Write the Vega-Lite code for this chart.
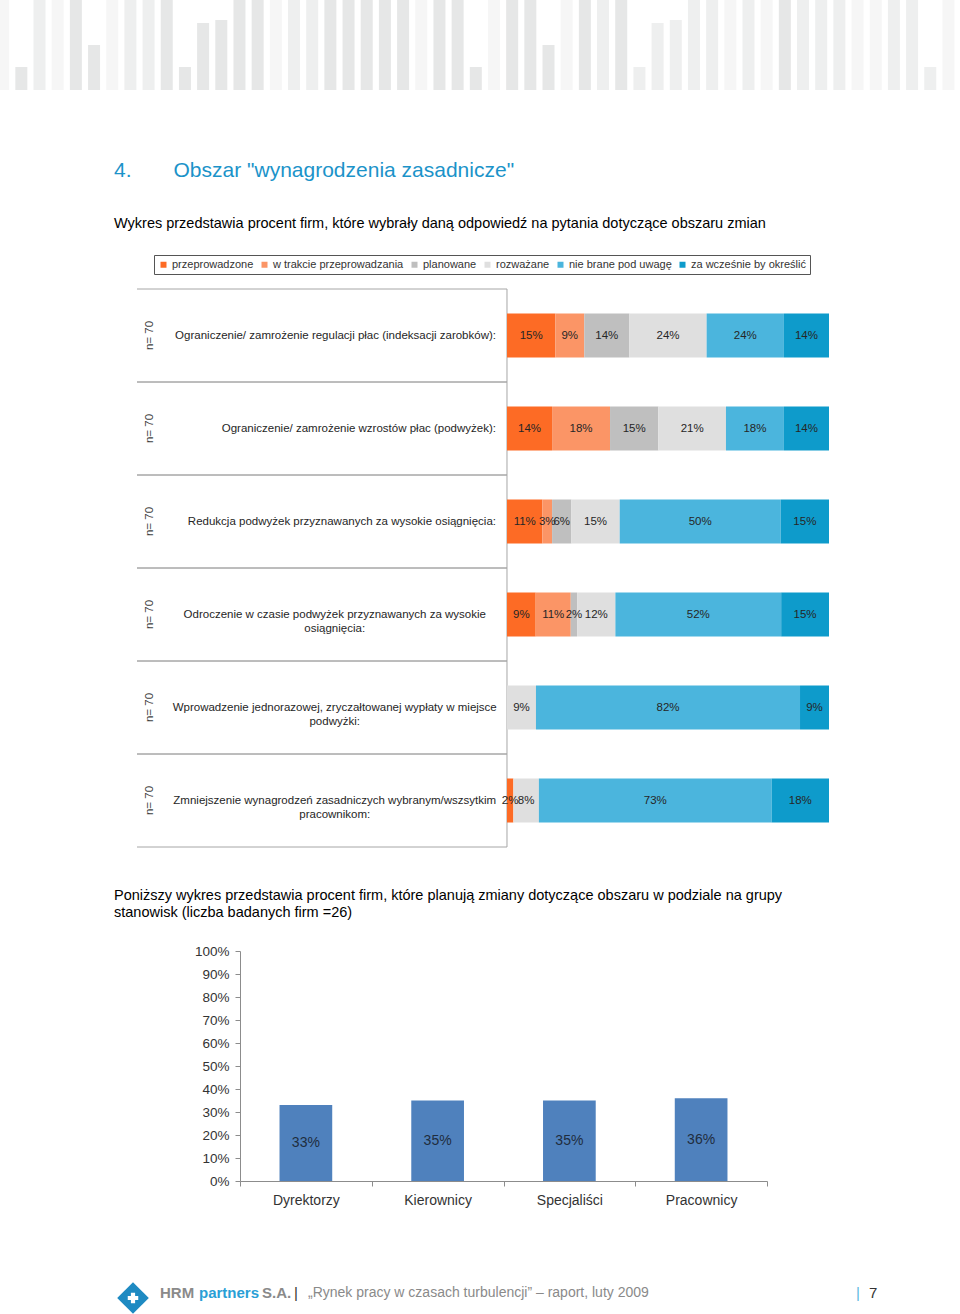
{
  "$schema": "https://vega.github.io/schema/vega-lite/v6.json",
  "background": "white",
  "padding": {"left": 0, "top": 0, "right": 0, "bottom": 0},
  "config": {
    "view": {"stroke": null},
    "font": "Liberation Sans",
    "title": {"font": "Liberation Sans", "fontWeight": "normal", "subtitleFont": "Liberation Sans"},
    "axis": {"labelFont": "Liberation Sans"},
    "legend": {"labelFont": "Liberation Sans"}
  },
  "resolve": {"scale": {"color": "independent"}, "legend": {"color": "independent"}},
  "datasets": {
    "naglowek": [
      {"nr": 0, "wysokosc": 90, "odcien": "C"}, {"nr": 1, "wysokosc": 23, "odcien": "A"}, {"nr": 2, "wysokosc": 90, "odcien": "B"},
      {"nr": 3, "wysokosc": 90, "odcien": "C"}, {"nr": 4, "wysokosc": 90, "odcien": "A"}, {"nr": 5, "wysokosc": 45, "odcien": "A"},
      {"nr": 6, "wysokosc": 90, "odcien": "C"}, {"nr": 7, "wysokosc": 90, "odcien": "B"}, {"nr": 8, "wysokosc": 90, "odcien": "B"},
      {"nr": 9, "wysokosc": 90, "odcien": "A"}, {"nr": 10, "wysokosc": 23, "odcien": "A"}, {"nr": 11, "wysokosc": 67, "odcien": "A"},
      {"nr": 12, "wysokosc": 70, "odcien": "A"}, {"nr": 13, "wysokosc": 90, "odcien": "A"}, {"nr": 14, "wysokosc": 90, "odcien": "A"},
      {"nr": 15, "wysokosc": 90, "odcien": "C"}, {"nr": 16, "wysokosc": 90, "odcien": "B"}, {"nr": 17, "wysokosc": 90, "odcien": "B"},
      {"nr": 18, "wysokosc": 90, "odcien": "A"}, {"nr": 19, "wysokosc": 90, "odcien": "A"}, {"nr": 20, "wysokosc": 90, "odcien": "A"},
      {"nr": 21, "wysokosc": 90, "odcien": "A"}, {"nr": 22, "wysokosc": 90, "odcien": "A"}, {"nr": 23, "wysokosc": 90, "odcien": "C"},
      {"nr": 24, "wysokosc": 90, "odcien": "A"}, {"nr": 25, "wysokosc": 90, "odcien": "A"}, {"nr": 26, "wysokosc": 23, "odcien": "A"},
      {"nr": 27, "wysokosc": 90, "odcien": "C"}, {"nr": 28, "wysokosc": 90, "odcien": "A"}, {"nr": 29, "wysokosc": 90, "odcien": "A"},
      {"nr": 30, "wysokosc": 45, "odcien": "A"}, {"nr": 31, "wysokosc": 90, "odcien": "C"}, {"nr": 32, "wysokosc": 90, "odcien": "A"},
      {"nr": 33, "wysokosc": 90, "odcien": "B"}, {"nr": 34, "wysokosc": 90, "odcien": "A"}, {"nr": 35, "wysokosc": 23, "odcien": "B"},
      {"nr": 36, "wysokosc": 67, "odcien": "B"}, {"nr": 37, "wysokosc": 70, "odcien": "B"}, {"nr": 38, "wysokosc": 90, "odcien": "B"},
      {"nr": 39, "wysokosc": 90, "odcien": "B"}, {"nr": 40, "wysokosc": 90, "odcien": "C"}, {"nr": 41, "wysokosc": 90, "odcien": "B"},
      {"nr": 42, "wysokosc": 90, "odcien": "C"}, {"nr": 43, "wysokosc": 90, "odcien": "A"}, {"nr": 44, "wysokosc": 90, "odcien": "B"},
      {"nr": 45, "wysokosc": 90, "odcien": "B"}, {"nr": 46, "wysokosc": 90, "odcien": "B"}, {"nr": 47, "wysokosc": 90, "odcien": "C"},
      {"nr": 48, "wysokosc": 90, "odcien": "C"}, {"nr": 49, "wysokosc": 90, "odcien": "B"}, {"nr": 50, "wysokosc": 90, "odcien": "B"},
      {"nr": 51, "wysokosc": 23, "odcien": "B"}, {"nr": 52, "wysokosc": 90, "odcien": "C"}
    ],
    "pytania": [
      {"pytanie": "Ograniczenie/ zamrożenie regulacji płac (indeksacji zarobków):", "wiersze": ["Ograniczenie/ zamrożenie regulacji płac (indeksacji zarobków):"], "n": 70},
      {"pytanie": "Ograniczenie/ zamrożenie wzrostów płac (podwyżek):", "wiersze": ["Ograniczenie/ zamrożenie wzrostów płac (podwyżek):"], "n": 70},
      {"pytanie": "Redukcja podwyżek przyznawanych za wysokie osiągnięcia:", "wiersze": ["Redukcja podwyżek przyznawanych za wysokie osiągnięcia:"], "n": 70},
      {"pytanie": "Odroczenie w czasie podwyżek przyznawanych za wysokie osiągnięcia:", "wiersze": ["Odroczenie w czasie podwyżek przyznawanych za wysokie", "osiągnięcia:"], "n": 70},
      {"pytanie": "Wprowadzenie jednorazowej, zryczałtowanej wypłaty w miejsce podwyżki:", "wiersze": ["Wprowadzenie jednorazowej, zryczałtowanej wypłaty w miejsce", "podwyżki:"], "n": 70},
      {"pytanie": "Zmniejszenie wynagrodzeń zasadniczych wybranym/wszsytkim pracownikom:", "wiersze": ["Zmniejszenie wynagrodzeń zasadniczych wybranym/wszsytkim", "pracownikom:"], "n": 70}
    ],
    "odpowiedzi": [
      {"pytanie": "Ograniczenie/ zamrożenie regulacji płac (indeksacji zarobków):", "odpowiedz": "przeprowadzone", "procent": 15},
      {"pytanie": "Ograniczenie/ zamrożenie regulacji płac (indeksacji zarobków):", "odpowiedz": "w trakcie przeprowadzania", "procent": 9},
      {"pytanie": "Ograniczenie/ zamrożenie regulacji płac (indeksacji zarobków):", "odpowiedz": "planowane", "procent": 14},
      {"pytanie": "Ograniczenie/ zamrożenie regulacji płac (indeksacji zarobków):", "odpowiedz": "rozważane", "procent": 24},
      {"pytanie": "Ograniczenie/ zamrożenie regulacji płac (indeksacji zarobków):", "odpowiedz": "nie brane pod uwagę", "procent": 24},
      {"pytanie": "Ograniczenie/ zamrożenie regulacji płac (indeksacji zarobków):", "odpowiedz": "za wcześnie by określić", "procent": 14},
      {"pytanie": "Ograniczenie/ zamrożenie wzrostów płac (podwyżek):", "odpowiedz": "przeprowadzone", "procent": 14},
      {"pytanie": "Ograniczenie/ zamrożenie wzrostów płac (podwyżek):", "odpowiedz": "w trakcie przeprowadzania", "procent": 18},
      {"pytanie": "Ograniczenie/ zamrożenie wzrostów płac (podwyżek):", "odpowiedz": "planowane", "procent": 15},
      {"pytanie": "Ograniczenie/ zamrożenie wzrostów płac (podwyżek):", "odpowiedz": "rozważane", "procent": 21},
      {"pytanie": "Ograniczenie/ zamrożenie wzrostów płac (podwyżek):", "odpowiedz": "nie brane pod uwagę", "procent": 18},
      {"pytanie": "Ograniczenie/ zamrożenie wzrostów płac (podwyżek):", "odpowiedz": "za wcześnie by określić", "procent": 14},
      {"pytanie": "Redukcja podwyżek przyznawanych za wysokie osiągnięcia:", "odpowiedz": "przeprowadzone", "procent": 11},
      {"pytanie": "Redukcja podwyżek przyznawanych za wysokie osiągnięcia:", "odpowiedz": "w trakcie przeprowadzania", "procent": 3},
      {"pytanie": "Redukcja podwyżek przyznawanych za wysokie osiągnięcia:", "odpowiedz": "planowane", "procent": 6},
      {"pytanie": "Redukcja podwyżek przyznawanych za wysokie osiągnięcia:", "odpowiedz": "rozważane", "procent": 15},
      {"pytanie": "Redukcja podwyżek przyznawanych za wysokie osiągnięcia:", "odpowiedz": "nie brane pod uwagę", "procent": 50},
      {"pytanie": "Redukcja podwyżek przyznawanych za wysokie osiągnięcia:", "odpowiedz": "za wcześnie by określić", "procent": 15},
      {"pytanie": "Odroczenie w czasie podwyżek przyznawanych za wysokie osiągnięcia:", "odpowiedz": "przeprowadzone", "procent": 9},
      {"pytanie": "Odroczenie w czasie podwyżek przyznawanych za wysokie osiągnięcia:", "odpowiedz": "w trakcie przeprowadzania", "procent": 11},
      {"pytanie": "Odroczenie w czasie podwyżek przyznawanych za wysokie osiągnięcia:", "odpowiedz": "planowane", "procent": 2},
      {"pytanie": "Odroczenie w czasie podwyżek przyznawanych za wysokie osiągnięcia:", "odpowiedz": "rozważane", "procent": 12},
      {"pytanie": "Odroczenie w czasie podwyżek przyznawanych za wysokie osiągnięcia:", "odpowiedz": "nie brane pod uwagę", "procent": 52},
      {"pytanie": "Odroczenie w czasie podwyżek przyznawanych za wysokie osiągnięcia:", "odpowiedz": "za wcześnie by określić", "procent": 15},
      {"pytanie": "Wprowadzenie jednorazowej, zryczałtowanej wypłaty w miejsce podwyżki:", "odpowiedz": "rozważane", "procent": 9},
      {"pytanie": "Wprowadzenie jednorazowej, zryczałtowanej wypłaty w miejsce podwyżki:", "odpowiedz": "nie brane pod uwagę", "procent": 82},
      {"pytanie": "Wprowadzenie jednorazowej, zryczałtowanej wypłaty w miejsce podwyżki:", "odpowiedz": "za wcześnie by określić", "procent": 9},
      {"pytanie": "Zmniejszenie wynagrodzeń zasadniczych wybranym/wszsytkim pracownikom:", "odpowiedz": "przeprowadzone", "procent": 2},
      {"pytanie": "Zmniejszenie wynagrodzeń zasadniczych wybranym/wszsytkim pracownikom:", "odpowiedz": "rozważane", "procent": 8},
      {"pytanie": "Zmniejszenie wynagrodzeń zasadniczych wybranym/wszsytkim pracownikom:", "odpowiedz": "nie brane pod uwagę", "procent": 73},
      {"pytanie": "Zmniejszenie wynagrodzeń zasadniczych wybranym/wszsytkim pracownikom:", "odpowiedz": "za wcześnie by określić", "procent": 18}
    ],
    "grupy": [
      {"grupa": "Dyrektorzy", "procent": 33},
      {"grupa": "Kierownicy", "procent": 35},
      {"grupa": "Specjaliści", "procent": 35},
      {"grupa": "Pracownicy", "procent": 36}
    ]
  },
  "spacing": 70,
  "vconcat": [
    {
      "width": 960,
      "height": 90,
      "data": {"name": "naglowek"},
      "mark": {"type": "bar", "width": 12, "clip": true},
      "encoding": {
        "x": {"field": "nr", "type": "quantitative", "scale": {"domain": [0.102, 52.36], "nice": false, "zero": false}, "axis": null},
        "y": {"field": "wysokosc", "type": "quantitative", "scale": {"domain": [0, 90], "nice": false}, "axis": null},
        "color": {"field": "odcien", "type": "nominal", "scale": {"domain": ["A", "B", "C"], "range": ["#e6e7e7", "#eeefef", "#f6f6f6"]}, "legend": null}
      }
    },
    {
      "spacing": 39,
      "resolve": {"scale": {"color": "independent"}, "legend": {"color": "independent"}},
      "vconcat": [
        {
          "width": 829,
          "height": 558,
          "title": {
            "text": "4.\u2003\u2003Obszar \"wynagrodzenia zasadnicze\"",
            "subtitle": "Wykres przedstawia procent firm, które wybrały daną odpowiedź na pytania dotyczące obszaru zmian",
            "anchor": "start",
            "frame": "group",
            "dx": 114,
            "fontSize": 21,
            "color": "#1b93c9",
            "fontWeight": "normal",
            "subtitleFontSize": 14.5,
            "subtitleColor": "#000000",
            "subtitlePadding": 36,
            "offset": 24
          },
          "layer": [
            {
              "data": {"name": "pytania"},
              "mark": {"type": "rule", "color": "#a6a6a6", "strokeWidth": 1},
              "encoding": {
                "y": {"field": "pytanie", "type": "nominal", "bandPosition": 0, "scale": {"domain": ["Ograniczenie/ zamrożenie regulacji płac (indeksacji zarobków):", "Ograniczenie/ zamrożenie wzrostów płac (podwyżek):", "Redukcja podwyżek przyznawanych za wysokie osiągnięcia:", "Odroczenie w czasie podwyżek przyznawanych za wysokie osiągnięcia:", "Wprowadzenie jednorazowej, zryczałtowanej wypłaty w miejsce podwyżki:", "Zmniejszenie wynagrodzeń zasadniczych wybranym/wszsytkim pracownikom:"], "paddingInner": 0, "paddingOuter": 0}, "axis": null},
                "x": {"datum": -1.149, "type": "quantitative", "scale": {"domain": [-1.5745, 1], "nice": false, "zero": false}, "axis": null},
                "x2": {"datum": 0}
              }
            },
            {
              "data": {"name": "pytania"},
              "mark": {"type": "rule", "color": "#a6a6a6", "strokeWidth": 1},
              "encoding": {
                "y": {"field": "pytanie", "type": "nominal", "bandPosition": 1, "axis": null},
                "x": {"datum": -1.149, "type": "quantitative"},
                "x2": {"datum": 0}
              }
            },
            {
              "data": {"values": [{}]},
              "mark": {"type": "rule", "color": "#a6a6a6", "strokeWidth": 1},
              "encoding": {
                "x": {"datum": 0, "type": "quantitative"}
              }
            },
            {
              "data": {"name": "pytania"},
              "transform": [{"calculate": "'n= ' + datum.n", "as": "etykieta_n"}],
              "mark": {"type": "text", "angle": 270, "align": "center", "baseline": "middle", "fontSize": 11.5, "color": "#404040"},
              "encoding": {
                "y": {"field": "pytanie", "type": "nominal", "axis": null},
                "x": {"datum": -1.1087, "type": "quantitative"},
                "text": {"field": "etykieta_n"}
              }
            },
            {
              "data": {"name": "pytania"},
              "transform": [{"filter": "length(datum.wiersze) == 1"}],
              "mark": {"type": "text", "align": "right", "baseline": "middle", "fontSize": 11.5, "color": "#262626"},
              "encoding": {
                "y": {"field": "pytanie", "type": "nominal", "axis": null},
                "x": {"datum": -0.0342, "type": "quantitative"},
                "text": {"field": "wiersze"}
              }
            },
            {
              "data": {"name": "pytania"},
              "transform": [{"filter": "length(datum.wiersze) == 2"}],
              "mark": {"type": "text", "align": "center", "baseline": "middle", "fontSize": 11.5, "lineHeight": 14, "color": "#262626"},
              "encoding": {
                "y": {"field": "pytanie", "type": "nominal", "axis": null},
                "x": {"datum": -0.535, "type": "quantitative"},
                "text": {"field": "wiersze"}
              }
            },
            {
              "data": {"name": "odpowiedzi"},
              "transform": [
                {"calculate": "indexof(['przeprowadzone','w trakcie przeprowadzania','planowane','rozważane','nie brane pod uwagę','za wcześnie by określić'], datum.odpowiedz)", "as": "kolejnosc"},
                {"stack": "procent", "groupby": ["pytanie"], "sort": [{"field": "kolejnosc", "order": "ascending"}], "offset": "normalize", "as": ["od", "do"]}
              ],
              "mark": {"type": "bar", "height": {"band": 0.473}},
              "encoding": {
                "y": {"field": "pytanie", "type": "nominal", "axis": null},
                "x": {"field": "od", "type": "quantitative"},
                "x2": {"field": "do"},
                "color": {
                  "field": "odpowiedz",
                  "type": "nominal",
                  "scale": {
                    "domain": ["przeprowadzone", "w trakcie przeprowadzania", "planowane", "rozważane", "nie brane pod uwagę", "za wcześnie by określić"],
                    "range": ["#fd6b25", "#fb9566", "#bfbfbf", "#dfdfdf", "#4bb5dd", "#0e9bcb"]
                  },
                  "legend": {
                    "orient": "none",
                    "legendX": 154,
                    "legendY": -34,
                    "direction": "horizontal",
                    "title": null,
                    "symbolType": "square",
                    "symbolSize": 36,
                    "symbolStrokeWidth": 0,
                    "labelFontSize": 11,
                    "labelColor": "#333333",
                    "labelOffset": 3,
                    "columnPadding": 5,
                    "strokeColor": "#555555",
                    "padding": 4
                  }
                }
              }
            },
            {
              "data": {"name": "odpowiedzi"},
              "transform": [
                {"calculate": "indexof(['przeprowadzone','w trakcie przeprowadzania','planowane','rozważane','nie brane pod uwagę','za wcześnie by określić'], datum.odpowiedz)", "as": "kolejnosc"},
                {"stack": "procent", "groupby": ["pytanie"], "sort": [{"field": "kolejnosc", "order": "ascending"}], "offset": "normalize", "as": ["od", "do"]},
                {"calculate": "(datum.od + datum.do) / 2", "as": "srodek"},
                {"calculate": "datum.procent + '%'", "as": "etykieta"}
              ],
              "mark": {"type": "text", "align": "center", "baseline": "middle", "fontSize": 11.5, "color": "#262626"},
              "encoding": {
                "y": {"field": "pytanie", "type": "nominal", "axis": null},
                "x": {"field": "srodek", "type": "quantitative"},
                "text": {"field": "etykieta"}
              }
            }
          ]
        },
        {
          "spacing": 0,
          "hconcat": [
            {
              "width": 114,
              "height": 230,
              "data": {"values": [{}]},
              "mark": {"type": "point", "opacity": 0},
              "encoding": {}
            },
            {
              "width": 527,
              "height": 230,
              "title": {
                "text": ["Poniższy wykres przedstawia procent firm, które planują zmiany dotyczące obszaru w podziale na grupy", "stanowisk (liczba badanych firm =26)"],
                "anchor": "start",
                "frame": "group",
                "dx": -126,
                "fontSize": 14.5,
                "color": "#000000",
                "lineHeight": 17,
                "offset": 24
              },
              "data": {"name": "grupy"},
              "encoding": {
                "x": {
                  "field": "grupa",
                  "type": "nominal",
                  "sort": null,
                  "scale": {"paddingInner": 0, "paddingOuter": 0},
                  "axis": {"title": null, "labelAngle": 0, "tickBand": "extent", "domainColor": "#8c8c8c", "tickColor": "#8c8c8c", "tickSize": 5, "labelFontSize": 14, "labelColor": "#333333", "labelPadding": 7}
                }
              },
              "layer": [
                {
                  "mark": {"type": "bar", "width": {"band": 0.4}, "color": "#4f81bd"},
                  "encoding": {
                    "y": {
                      "field": "procent",
                      "type": "quantitative",
                      "scale": {"domain": [0, 100], "nice": false},
                      "axis": {"values": [0, 10, 20, 30, 40, 50, 60, 70, 80, 90, 100], "labelExpr": "datum.value + '%'", "labelOverlap": false, "title": null, "grid": false, "domainColor": "#8c8c8c", "tickColor": "#8c8c8c", "tickSize": 5, "labelFontSize": 13.5, "labelColor": "#333333", "labelPadding": 6}
                    }
                  }
                },
                {
                  "transform": [
                    {"calculate": "datum.procent / 2", "as": "polowa"},
                    {"calculate": "datum.procent + '%'", "as": "etykieta"}
                  ],
                  "mark": {"type": "text", "align": "center", "baseline": "middle", "fontSize": 14, "color": "#1f2d3d"},
                  "encoding": {
                    "y": {
                      "field": "polowa",
                      "type": "quantitative",
                      "scale": {"domain": [0, 100], "nice": false},
                      "axis": {"values": [0, 10, 20, 30, 40, 50, 60, 70, 80, 90, 100], "labelExpr": "datum.value + '%'", "labelOverlap": false, "title": null, "grid": false, "domainColor": "#8c8c8c", "tickColor": "#8c8c8c", "tickSize": 5, "labelFontSize": 13.5, "labelColor": "#333333", "labelPadding": 6}
                    },
                    "text": {"field": "etykieta"}
                  }
                }
              ]
            }
          ]
        },
        {
          "width": 960,
          "height": 63,
          "data": {"values": [{}]},
          "layer": [
            {
              "mark": {"type": "point", "shape": "diamond", "size": 1000, "filled": true, "color": "#1e8ac2", "opacity": 1},
              "encoding": {
                "x": {"datum": 133, "type": "quantitative", "scale": {"domain": [0, 960], "nice": false, "zero": false}, "axis": null},
                "y": {"datum": 52, "type": "quantitative", "scale": {"domain": [0, 63], "nice": false, "zero": false, "reverse": true}, "axis": null}
              }
            },
            {
              "mark": {"type": "point", "shape": "cross", "size": 110, "filled": true, "color": "#ffffff", "opacity": 1},
              "encoding": {
                "x": {"datum": 133, "type": "quantitative"},
                "y": {"datum": 52, "type": "quantitative"}
              }
            },
            {
              "mark": {"type": "text", "text": "HRM", "align": "left", "baseline": "middle", "fontSize": 15, "fontWeight": "bold", "color": "#8a8a8a"},
              "encoding": {"x": {"datum": 160, "type": "quantitative"}, "y": {"datum": 47, "type": "quantitative"}}
            },
            {
              "mark": {"type": "text", "text": "partners", "align": "left", "baseline": "middle", "fontSize": 15, "fontWeight": "bold", "color": "#2a9fd6"},
              "encoding": {"x": {"datum": 199, "type": "quantitative"}, "y": {"datum": 47, "type": "quantitative"}}
            },
            {
              "mark": {"type": "text", "text": "S.A.", "align": "left", "baseline": "middle", "fontSize": 15, "fontWeight": "bold", "color": "#8a8a8a"},
              "encoding": {"x": {"datum": 262, "type": "quantitative"}, "y": {"datum": 47, "type": "quantitative"}}
            },
            {
              "mark": {"type": "text", "text": "|", "align": "left", "baseline": "middle", "fontSize": 15, "color": "#333333"},
              "encoding": {"x": {"datum": 294, "type": "quantitative"}, "y": {"datum": 47, "type": "quantitative"}}
            },
            {
              "mark": {"type": "text", "text": "„Rynek pracy w czasach turbulencji” – raport, luty 2009", "align": "left", "baseline": "middle", "fontSize": 14, "color": "#8a8a8a"},
              "encoding": {"x": {"datum": 308, "type": "quantitative"}, "y": {"datum": 47, "type": "quantitative"}}
            },
            {
              "mark": {"type": "text", "text": "|", "align": "left", "baseline": "middle", "fontSize": 15, "color": "#5fb8e0"},
              "encoding": {"x": {"datum": 856, "type": "quantitative"}, "y": {"datum": 47, "type": "quantitative"}}
            },
            {
              "mark": {"type": "text", "text": "7", "align": "left", "baseline": "middle", "fontSize": 15, "color": "#333333"},
              "encoding": {"x": {"datum": 869, "type": "quantitative"}, "y": {"datum": 47, "type": "quantitative"}}
            }
          ]
        }
      ]
    }
  ]
}
